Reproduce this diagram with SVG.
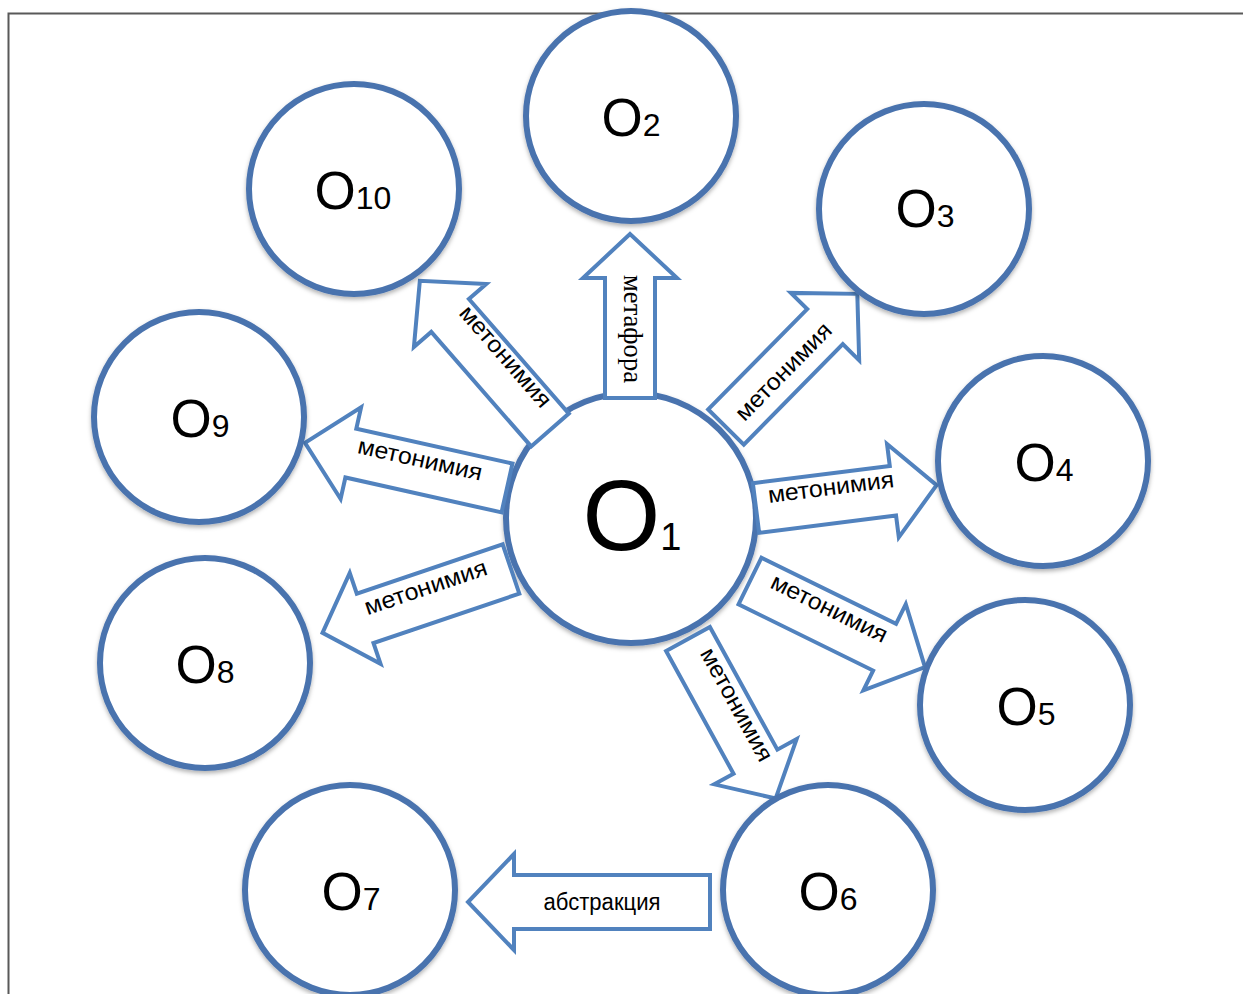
<svg xmlns="http://www.w3.org/2000/svg" width="1243" height="994" viewBox="0 0 1243 994">
<defs>
<filter id="sh" x="-20%" y="-20%" width="140%" height="140%">
<feDropShadow dx="0" dy="2.5" stdDeviation="2" flood-color="#000" flood-opacity="0.3"/>
</filter>
<style>
.node{fill:#fff;stroke:#4a73ae;stroke-width:6;filter:url(#sh)}
.arr{fill:#fff;stroke:#5182be;stroke-width:4;stroke-linejoin:miter}
.lbl{font-family:"Liberation Sans",Arial,sans-serif;fill:#000;text-anchor:middle}
.al{font-family:"Liberation Sans",Arial,sans-serif;font-size:23.5px;fill:#000;text-anchor:middle}
.ser{font-family:"Liberation Serif","Times New Roman",serif;font-size:27px;fill:#000;text-anchor:middle}
</style>
</defs>
<rect width="1243" height="994" fill="#fff"/>
<path d="M8.5 994 V13.5 H1243" fill="none" stroke="#595959" stroke-width="2"/>

<g id="O1">
<circle class="node" cx="631" cy="518" r="125"/>
<text class="lbl" x="632" y="550"><tspan font-size="100">O</tspan><tspan font-size="38">1</tspan></text>
</g>

<g id="connectors">
<g transform="translate(630,398) rotate(-90)">
<polygon class="arr" points="0,-25 120,-25 120,-47 164,0 120,47 120,25 0,25"/>
</g>
<text class="ser" transform="translate(630,329) rotate(90)" x="0" y="6" textLength="108" lengthAdjust="spacingAndGlyphs">метафора</text>

<g transform="translate(550,430) rotate(-131.1)">
<polygon class="arr" points="0,-25 152,-25 152,-48 198,0 152,48 152,25 0,25"/>
</g>
<text class="al" transform="translate(505,357) rotate(49)" x="0" y="7" textLength="127" lengthAdjust="spacingAndGlyphs">метонимия</text>

<g transform="translate(726,427) rotate(-45.4)">
<polygon class="arr" points="0,-25 141,-25 141,-48 187,0 141,48 141,25 0,25"/>
</g>
<text class="al" transform="translate(784,372) rotate(-45.4)" x="0" y="7" textLength="127" lengthAdjust="spacingAndGlyphs">метонимия</text>

<g transform="translate(756,508) rotate(-7.2)">
<polygon class="arr" points="0,-25 138,-25 138,-47 182,0 138,47 138,25 0,25"/>
</g>
<text class="al" transform="translate(831,488) rotate(-7.2)" x="0" y="7" textLength="127" lengthAdjust="spacingAndGlyphs">метонимия</text>

<g transform="translate(750,581) rotate(26.2)">
<polygon class="arr" points="0,-26 150,-26 150,-48 195,0 150,48 150,26 0,26"/>
</g>
<text class="al" transform="translate(829,609) rotate(26.2)" x="0" y="7" textLength="127" lengthAdjust="spacingAndGlyphs">метонимия</text>

<g transform="translate(688,639) rotate(61.2)">
<polygon class="arr" points="0,-25 140,-25 140,-47 182,0 140,47 140,25 0,25"/>
</g>
<text class="al" transform="translate(736,705) rotate(61.2)" x="0" y="7" textLength="126" lengthAdjust="spacingAndGlyphs">метонимия</text>

<g transform="translate(710,902) rotate(180)">
<polygon class="arr" points="0,-27 196,-27 196,-48 242,0 196,48 196,27 0,27"/>
</g>
<text class="al" x="602" y="910" textLength="117" lengthAdjust="spacingAndGlyphs">абстракция</text>

<g transform="translate(511,569) rotate(161.3)">
<polygon class="arr" points="0,-26 154,-26 154,-48 199,0 154,48 154,26 0,26"/>
</g>
<text class="al" transform="translate(426,588) rotate(-18.7)" x="0" y="7" textLength="128" lengthAdjust="spacingAndGlyphs">метонимия</text>

<g transform="translate(507,488) rotate(-167.4)">
<polygon class="arr" points="0,-25 160,-25 160,-47 207,0 160,47 160,25 0,25"/>
</g>
<text class="al" transform="translate(420,460) rotate(12.6)" x="0" y="7" textLength="127" lengthAdjust="spacingAndGlyphs">метонимия</text>
</g>

<g id="O2">
<circle class="node" cx="631" cy="116" r="105"/>
<text class="lbl" x="631" y="136"><tspan font-size="53">O</tspan><tspan font-size="32">2</tspan></text>
</g>
<g id="O3">
<circle class="node" cx="924" cy="209" r="105"/>
<text class="lbl" x="925" y="227"><tspan font-size="53">O</tspan><tspan font-size="32">3</tspan></text>
</g>
<g id="O4">
<circle class="node" cx="1043" cy="461" r="105"/>
<text class="lbl" x="1044" y="481"><tspan font-size="53">O</tspan><tspan font-size="32">4</tspan></text>
</g>
<g id="O5">
<circle class="node" cx="1025" cy="705" r="105"/>
<text class="lbl" x="1026" y="725"><tspan font-size="53">O</tspan><tspan font-size="32">5</tspan></text>
</g>
<g id="O6">
<circle class="node" cx="828" cy="890" r="105"/>
<text class="lbl" x="828" y="910"><tspan font-size="53">O</tspan><tspan font-size="32">6</tspan></text>
</g>
<g id="O7">
<circle class="node" cx="350" cy="890" r="105"/>
<text class="lbl" x="351" y="910"><tspan font-size="53">O</tspan><tspan font-size="32">7</tspan></text>
</g>
<g id="O8">
<circle class="node" cx="205" cy="663" r="105"/>
<text class="lbl" x="205" y="683"><tspan font-size="53">O</tspan><tspan font-size="32">8</tspan></text>
</g>
<g id="O9">
<circle class="node" cx="199" cy="417" r="105"/>
<text class="lbl" x="200" y="437"><tspan font-size="53">O</tspan><tspan font-size="32">9</tspan></text>
</g>
<g id="O10">
<circle class="node" cx="354" cy="189" r="105"/>
<text class="lbl" x="353" y="209"><tspan font-size="53">O</tspan><tspan font-size="32">10</tspan></text>
</g>
</svg>
